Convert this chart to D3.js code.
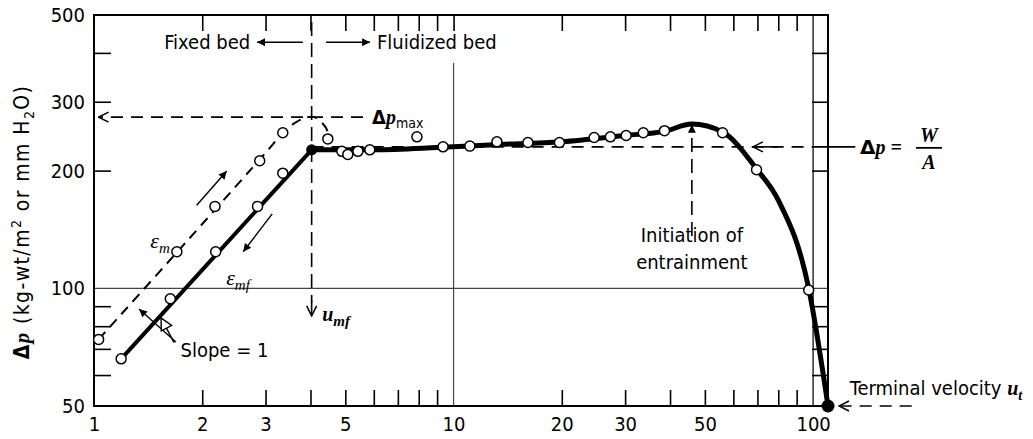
<!DOCTYPE html>
<html>
<head>
<meta charset="utf-8">
<script src="https://cdn.jsdelivr.net/npm/d3@7"></script>
<style>
body { margin: 0; background: #fff; }
svg text { font-family: "DejaVu Sans Condensed", "DejaVu Sans", sans-serif; font-stretch: condensed; font-size: 20px; fill: #000; }
.serif { font-family: "Liberation Serif", "DejaVu Serif", serif; font-stretch: normal; }
</style>
</head>
<body>
<svg width="1033" height="439"></svg>
<script>
// axis ticks
var xLabels = [1, 2, 3, 5, 10, 20, 30, 50, 100];
var xMinor = [2, 3, 4, 5, 6, 7, 8, 9, 20, 30, 40, 50, 60, 70, 80, 90];
var yLabels = [50, 100, 200, 300, 500];
var yMinor = [60, 70, 80, 90, 200, 300, 400];

// measured points (velocity, pressure drop)
var epsM = [[1.03, 74], [1.70, 124], [2.17, 162], [2.89, 212], [3.35, 250]];
var epsMf = [[1.19, 66], [1.63, 94], [2.18, 124], [2.85, 162], [3.35, 197]];
var fluid = [[4.47, 241], [4.89, 224], [5.08, 220], [5.42, 224], [5.85, 226], [7.91, 244],
  [9.35, 230], [11.1, 231], [13.2, 237], [16.1, 236], [19.7, 236], [24.6, 243], [27.3, 244],
  [30.2, 246], [33.7, 250], [38.6, 253], [56, 250], [69.6, 201], [97.2, 99]];
var umfPoint = [4.03, 226];
var terminalPoint = [110, 50];

// curves through the data
var epsMfLine = [[1.19, 66], [4.03, 226]];
var fluidCurve = [[4.03, 226], [6, 226], [9, 229], [13, 233], [20, 237], [30, 246], [38.6, 252],
  [46, 263], [56, 251], [69.6, 202], [80, 168], [97.2, 100], [110, 50]];
var epsMCurve = [[1.03, 74], [2.0, 146], [3.0, 222], [3.4, 253], [3.65, 266], [3.9, 273.5],
  [4.1, 274], [4.27, 267], [4.42, 257], [4.5, 244]];

var dpMax = 274, dpWA = 230, uInit = 46;

var svg = d3.select("svg");
var x = d3.scaleLog().domain([1, 110]).range([94, 828]);
var y = d3.scaleLog().domain([50, 500]).range([406, 15]);

var defs = svg.append("defs");
defs.append("marker").attr("id", "tri").attr("viewBox", "0 0 10 10")
  .attr("refX", 10).attr("refY", 5).attr("markerWidth", 11).attr("markerHeight", 8)
  .attr("markerUnits", "userSpaceOnUse").attr("orient", "auto")
  .append("path").attr("d", "M0,0L10,5L0,10z").attr("fill", "#000");
defs.append("marker").attr("id", "chev").attr("viewBox", "0 0 12 12")
  .attr("refX", 11).attr("refY", 6).attr("markerWidth", 12).attr("markerHeight", 12)
  .attr("markerUnits", "userSpaceOnUse").attr("orient", "auto")
  .append("path").attr("d", "M1,1L11,6L1,11").attr("fill", "none").attr("stroke", "#000").attr("stroke-width", 1.5);
defs.append("marker").attr("id", "open").attr("viewBox", "0 0 12 12")
  .attr("refX", 11).attr("refY", 6).attr("markerWidth", 16).attr("markerHeight", 14)
  .attr("markerUnits", "userSpaceOnUse").attr("orient", "auto")
  .append("path").attr("d", "M1,1L11,6L1,11z").attr("fill", "#fff").attr("stroke", "#000").attr("stroke-width", 1.2);

// grid lines
svg.append("line").attr("x1", x(1)).attr("x2", x(110)).attr("y1", y(100)).attr("y2", y(100))
  .attr("stroke", "#444").attr("stroke-width", 1.2);
svg.append("line").attr("x1", x(10)).attr("x2", x(10)).attr("y1", y(377)).attr("y2", y(50))
  .attr("stroke", "#444").attr("stroke-width", 1.2);
svg.append("line").attr("x1", x(100)).attr("x2", x(100)).attr("y1", y(500)).attr("y2", y(50))
  .attr("stroke", "#222").attr("stroke-width", 1.4);

// inner ticks
function ticks(axis, tr) {
  var g = svg.append("g").attr("transform", tr).call(axis);
  g.select(".domain").remove();
  g.selectAll("line").attr("stroke-width", 1.6);
}
ticks(d3.axisTop(x).tickValues(xMinor).tickSize(16).tickFormat(""), "translate(0," + y(50) + ")");
ticks(d3.axisBottom(x).tickValues(xMinor.concat([10])).tickSize(16).tickFormat(""), "translate(0," + y(500) + ")");
ticks(d3.axisRight(y).tickValues(yMinor).tickSize(17).tickFormat(""), "translate(" + x(1) + ",0)");
ticks(d3.axisLeft(y).tickValues(yMinor).tickSize(16).tickFormat(""), "translate(" + x(110) + ",0)");

// labels
var xa = svg.append("g").attr("transform", "translate(0," + y(50) + ")")
  .call(d3.axisBottom(x).tickValues(xLabels).tickSize(0).tickPadding(11).tickFormat(d3.format("d")));
xa.select(".domain").remove();
var ya = svg.append("g").attr("transform", "translate(" + x(1) + ",0)")
  .call(d3.axisLeft(y).tickValues(yLabels).tickSize(0).tickPadding(9).tickFormat(d3.format("d")));
ya.select(".domain").remove();
svg.selectAll(".tick text").attr("font-size", null).attr("font-family", null);

// frame
svg.append("rect").attr("x", x(1)).attr("y", y(500)).attr("width", x(110) - x(1)).attr("height", y(50) - y(500))
  .attr("fill", "none").attr("stroke", "#000").attr("stroke-width", 2);

// y title
var yt = svg.append("text").attr("transform", "translate(29," + 222 + ")rotate(-90)").attr("text-anchor", "middle")
  .style("font-size", "21px").style("letter-spacing", "1.4px");
yt.append("tspan").attr("font-weight", "bold").text("Δ");
yt.append("tspan").attr("class", "serif").attr("font-style", "italic").attr("font-weight", "bold").text("p");
yt.append("tspan").text(" (kg-wt/m");
yt.append("tspan").attr("font-size", 14).attr("dy", -8).text("2");
yt.append("tspan").attr("dy", 8).text(" or mm H");
yt.append("tspan").attr("font-size", 14).attr("dy", 5).text("2");
yt.append("tspan").attr("dy", -5).text("O)");

// reference dashed lines
function seg(u1, p1, u2, p2, dash, w, marker) {
  var l = svg.append("line").attr("x1", x(u1)).attr("y1", y(p1)).attr("x2", x(u2)).attr("y2", y(p2))
    .attr("stroke", "#000").attr("stroke-width", w || 1.6);
  if (dash) l.attr("stroke-dasharray", dash);
  if (marker) l.attr("marker-end", "url(#" + marker + ")");
  return l;
}
seg(5.6, dpMax, 1.03, dpMax, "12,8", 1.6, "chev");
seg(umfPoint[0], 480, umfPoint[0], 92, "14,7", 1.6);
seg(umfPoint[0], 93, umfPoint[0], 85, null, 1.6, "chev");
seg(4.03, dpWA, 100, dpWA, "12,8", 1.6);
seg(100, dpWA, 131, dpWA, null, 1.6);
seg(80, dpWA, 68, dpWA, null, 1.6, "chev");
seg(uInit, 136, uInit, 262, "14,7", 1.6, "tri");
seg(188, 50, 118, 50, "12,8", 1.6, "chev");

// fixed / fluidized arrows
seg(3.81, 426, 2.84, 426, null, 1.6, "tri");
seg(4.42, 426, 5.86, 426, null, 1.6, "tri");
seg(1.93, 163, 2.34, 199.5, null, 1.4, "tri");
seg(3.13, 155, 2.60, 124, null, 1.4, "tri");
seg(1.69, 72.9, 1.334, 88.5, null, 1.4, "tri");
seg(1.67, 72.6, 1.536, 84, null, 1.4, "open");

// curves
var line = d3.line().x(function (d) { return x(d[0]); }).y(function (d) { return y(d[1]); });
svg.append("path").datum(epsMCurve).attr("d", line.curve(d3.curveCatmullRom.alpha(0.5)))
  .attr("fill", "none").attr("stroke", "#000").attr("stroke-width", 2).attr("stroke-dasharray", "10,7");
svg.append("path").datum(epsMfLine).attr("d", line.curve(d3.curveLinear))
  .attr("fill", "none").attr("stroke", "#000").attr("stroke-width", 4);
svg.append("path").datum(fluidCurve).attr("d", line.curve(d3.curveMonotoneX))
  .attr("fill", "none").attr("stroke", "#000").attr("stroke-width", 5).attr("stroke-linejoin", "round");

// points
svg.append("g").selectAll("circle").data(epsM.concat(epsMf, fluid)).enter().append("circle")
  .attr("cx", function (d) { return x(d[0]); }).attr("cy", function (d) { return y(d[1]); })
  .attr("r", 5).attr("fill", "#fff").attr("stroke", "#000").attr("stroke-width", 1.5);
svg.append("circle").attr("cx", x(umfPoint[0])).attr("cy", y(umfPoint[1])).attr("r", 5.5).attr("fill", "#000");
svg.append("circle").attr("cx", x(terminalPoint[0])).attr("cy", y(terminalPoint[1])).attr("r", 6.5).attr("fill", "#000");

// annotations
function label(u, p, anchor) {
  return svg.append("text").attr("x", x(u)).attr("y", y(p)).attr("dy", "0.36em").attr("text-anchor", anchor || "start");
}
label(2.72, 426, "end").text("Fixed bed");
label(6.12, 426).text("Fluidized bed");
label(1.74, 69.5).text("Slope = 1");
label(uInit, 137, "middle").text("Initiation of");
label(uInit, 116.8, "middle").text("entrainment");
var tv = label(126.5, 55.6);
tv.append("tspan").text("Terminal velocity ");
tv.append("tspan").attr("class", "serif").attr("font-style", "italic").attr("font-weight", "bold").text("u");
tv.append("tspan").attr("class", "serif").attr("font-style", "italic").attr("font-weight", "bold").attr("font-size", 14).attr("dy", 5).text("t");

var em = label(1.526, 132.9, "middle").attr("class", "serif").attr("font-style", "italic").style("font-size", "22px");
em.append("tspan").text("ε");
em.append("tspan").attr("font-size", 15).attr("dy", 5).text("m");
var emf = label(2.515, 107, "middle").attr("class", "serif").attr("font-style", "italic").style("font-size", "22px");
emf.append("tspan").text("ε");
emf.append("tspan").attr("font-size", 15).attr("dy", 5).text("mf");
var um = label(4.31, 86).attr("class", "serif").attr("font-style", "italic").attr("font-weight", "bold");
um.append("tspan").text("u");
um.append("tspan").attr("font-size", 15).attr("dy", 5).text("mf");

var dm = label(5.93, dpMax);
dm.append("tspan").attr("font-weight", "bold").text("Δ");
dm.append("tspan").attr("class", "serif").attr("font-style", "italic").attr("font-weight", "bold").text("p");
dm.append("tspan").attr("font-size", 14).attr("dy", 4).text("max");

var wa = label(135, dpWA).attr("class", "serif").attr("font-weight", "bold");
wa.append("tspan").attr("font-family", "DejaVu Sans").text("Δ");
wa.append("tspan").attr("font-style", "italic").text("p = ");
var fx = x(135) + 56;
svg.append("line").attr("x1", fx).attr("x2", fx + 26).attr("y1", y(dpWA) + 1).attr("y2", y(dpWA) + 1)
  .attr("stroke", "#000").attr("stroke-width", 1.8);
svg.append("text").attr("class", "serif").attr("x", fx + 13).attr("y", y(dpWA) - 5).attr("text-anchor", "middle")
  .attr("font-style", "italic").attr("font-weight", "bold").text("W");
svg.append("text").attr("class", "serif").attr("x", fx + 13).attr("y", y(dpWA) + 22).attr("text-anchor", "middle")
  .attr("font-style", "italic").attr("font-weight", "bold").text("A");
</script>
</body>
</html>
